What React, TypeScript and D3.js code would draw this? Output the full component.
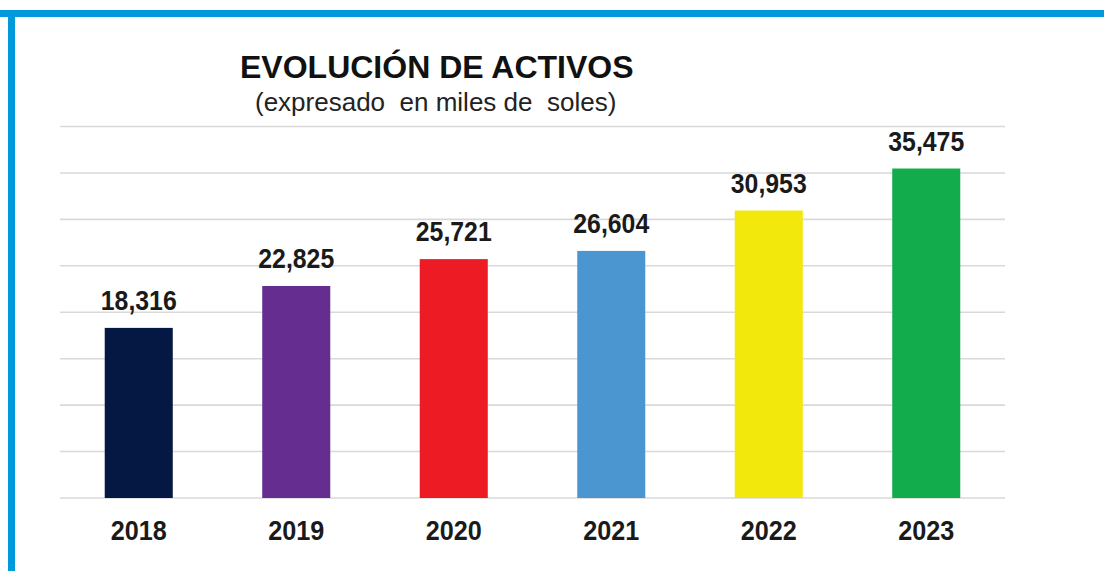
import React, { useEffect, useRef } from 'react';
import * as d3 from 'd3';

const years = ['2018', '2019', '2020', '2021', '2022', '2023'];
const activos = [18316, 22825, 25721, 26604, 30953, 35475];
const barColors = ['#041843', '#662d91', '#ed1c24', '#4b96d1', '#f2e80c', '#13ac4d'];
const gridTicks = [0, 5000, 10000, 15000, 20000, 25000, 30000, 35000, 40000];

const App = () => {
  const svgRef = useRef<SVGSVGElement>(null);

  useEffect(() => {
    const svg = d3.select(svgRef.current);
    svg.selectAll('*').remove();

    const width = 1104;
    const height = 571;
    const font = 'Arial, "Liberation Sans", sans-serif';

    svg.attr('width', width).attr('height', height);

    svg.append('rect').attr('width', width).attr('height', height).attr('fill', 'white');

    // blue frame (top + left only)
    svg.append('rect').attr('x', 0).attr('y', 10).attr('width', width).attr('height', 7).attr('fill', '#0099db');
    svg.append('rect').attr('x', 8).attr('y', 10).attr('width', 7).attr('height', height - 10).attr('fill', '#0099db');

    const x = d3.scaleBand()
      .domain(years)
      .range([60, 1005])
      .paddingInner(0.568)
      .paddingOuter(0.284);

    const y = d3.scaleLinear()
      .domain([0, 40000])
      .range([498, 126.5]);

    // gridlines
    svg.append('g')
      .selectAll('line')
      .data(gridTicks)
      .enter().append('line')
      .attr('x1', 60)
      .attr('x2', 1005)
      .attr('y1', d => y(d))
      .attr('y2', d => y(d))
      .attr('stroke', '#d9d9d9')
      .attr('stroke-width', 1.6);

    // bars
    svg.append('g')
      .selectAll('rect')
      .data(activos)
      .enter().append('rect')
      .attr('x', (d, i) => x(years[i])!)
      .attr('y', d => y(d))
      .attr('width', x.bandwidth())
      .attr('height', d => y(0) - y(d))
      .attr('fill', (d, i) => barColors[i]);

    // value labels
    svg.append('g')
      .selectAll('text')
      .data(activos)
      .enter().append('text')
      .attr('transform', (d, i) => `translate(${x(years[i])! + x.bandwidth() / 2},${y(d) - 18}) scale(0.92,1)`)
      .attr('text-anchor', 'middle')
      .style('font-family', font)
      .style('font-weight', 'bold')
      .style('font-size', '27px')
      .style('fill', '#1a1a1a')
      .text(d => d3.format(',')(d));

    // year labels
    svg.append('g')
      .selectAll('text')
      .data(years)
      .enter().append('text')
      .attr('transform', d => `translate(${x(d)! + x.bandwidth() / 2},540) scale(0.9,1)`)
      .attr('text-anchor', 'middle')
      .style('font-family', font)
      .style('font-weight', 'bold')
      .style('font-size', '28px')
      .style('fill', '#1a1a1a')
      .text(d => d);

    // title
    svg.append('text')
      .attr('x', 240)
      .attr('y', 78)
      .style('font-family', font)
      .style('font-weight', 'bold')
      .style('font-size', '32px')
      .style('fill', '#111')
      .text('EVOLUCIÓN DE ACTIVOS');

    svg.append('text')
      .attr('x', 255)
      .attr('y', 111)
      .style('font-family', font)
      .style('font-size', '26px')
      .style('white-space', 'pre')
      .style('fill', '#222')
      .text('(expresado  en miles de  soles)');
  }, []);

  return <svg ref={svgRef} style={{ position: 'absolute', left: 0, top: 0, display: 'block' }}></svg>;
};

export default App;
